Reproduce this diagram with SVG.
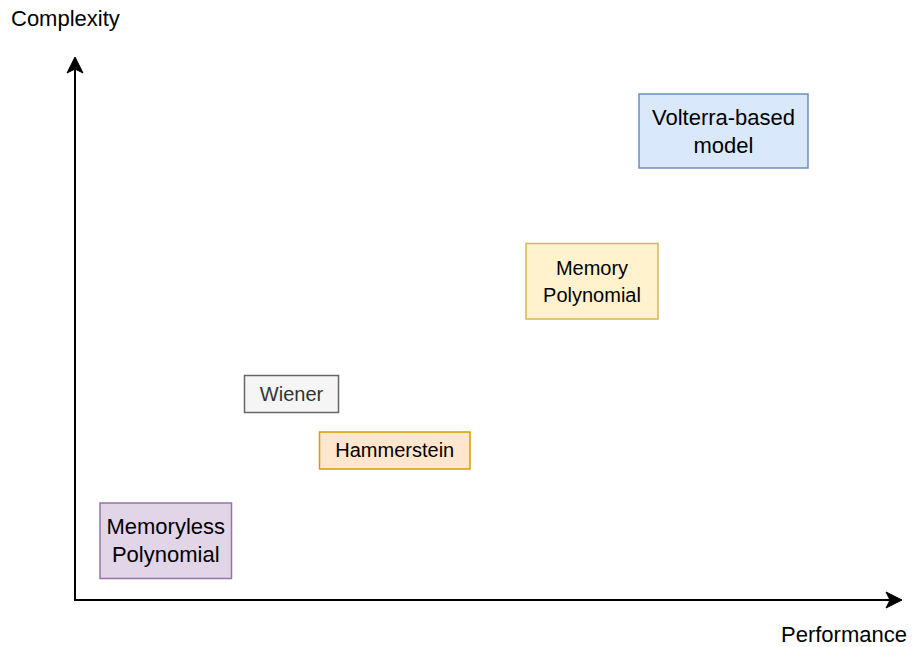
<svg xmlns="http://www.w3.org/2000/svg" width="912" height="647" viewBox="0 0 912 647">
<style>
text{font-family:"Liberation Sans",Arial,sans-serif;fill:#000;}
.lbl{font-size:20px;text-anchor:middle;}
.big{font-size:22px;}
.ax{font-size:22px;}
.box{stroke-width:1.5;}
.axis{stroke:#000;stroke-width:2;fill:none;}
.head{fill:#000;stroke:#000;stroke-width:1;}
</style>
<rect width="912" height="647" fill="#ffffff"/>
<g id="connectors">
<line class="axis" x1="75" y1="601" x2="75" y2="68"/>
<path class="head" d="M75,57 L83,73 L75,69 L67,73 Z"/>
<line class="axis" x1="74" y1="600" x2="891" y2="600"/>
<path class="head" d="M902,600 L886,608 L890,600 L886,592 Z"/>
</g>
<g id="label-complexity"><text class="ax" x="11" y="26">Complexity</text></g>
<g id="label-performance"><text class="ax" x="781" y="642">Performance</text></g>
<g id="volterra">
<rect class="box" x="639" y="94" width="169" height="74" fill="#dae8fc" stroke="#6c8ebf"/>
<text class="lbl big" x="723.5" y="125">Volterra-based</text>
<text class="lbl big" x="723.5" y="153">model</text>
</g>
<g id="memory-polynomial">
<rect class="box" x="526" y="243.5" width="132" height="75.5" fill="#fff2cc" stroke="#d6b656"/>
<text class="lbl" x="592" y="275">Memory</text>
<text class="lbl" x="592" y="302">Polynomial</text>
</g>
<g id="wiener">
<rect class="box" x="244.5" y="375.5" width="94" height="37" fill="#f5f5f5" stroke="#666666"/>
<text class="lbl" x="291.5" y="401" style="fill:#333333">Wiener</text>
</g>
<g id="hammerstein">
<rect class="box" x="319.5" y="432" width="150.5" height="37" fill="#ffe6cc" stroke="#d79b00"/>
<text class="lbl" x="394.75" y="457">Hammerstein</text>
</g>
<g id="memoryless-polynomial">
<rect class="box" x="100" y="503" width="131.5" height="75.5" fill="#e1d5e7" stroke="#9673a6"/>
<text class="lbl big" x="165.75" y="533.5">Memoryless</text>
<text class="lbl big" x="165.75" y="561.5">Polynomial</text>
</g>
</svg>
